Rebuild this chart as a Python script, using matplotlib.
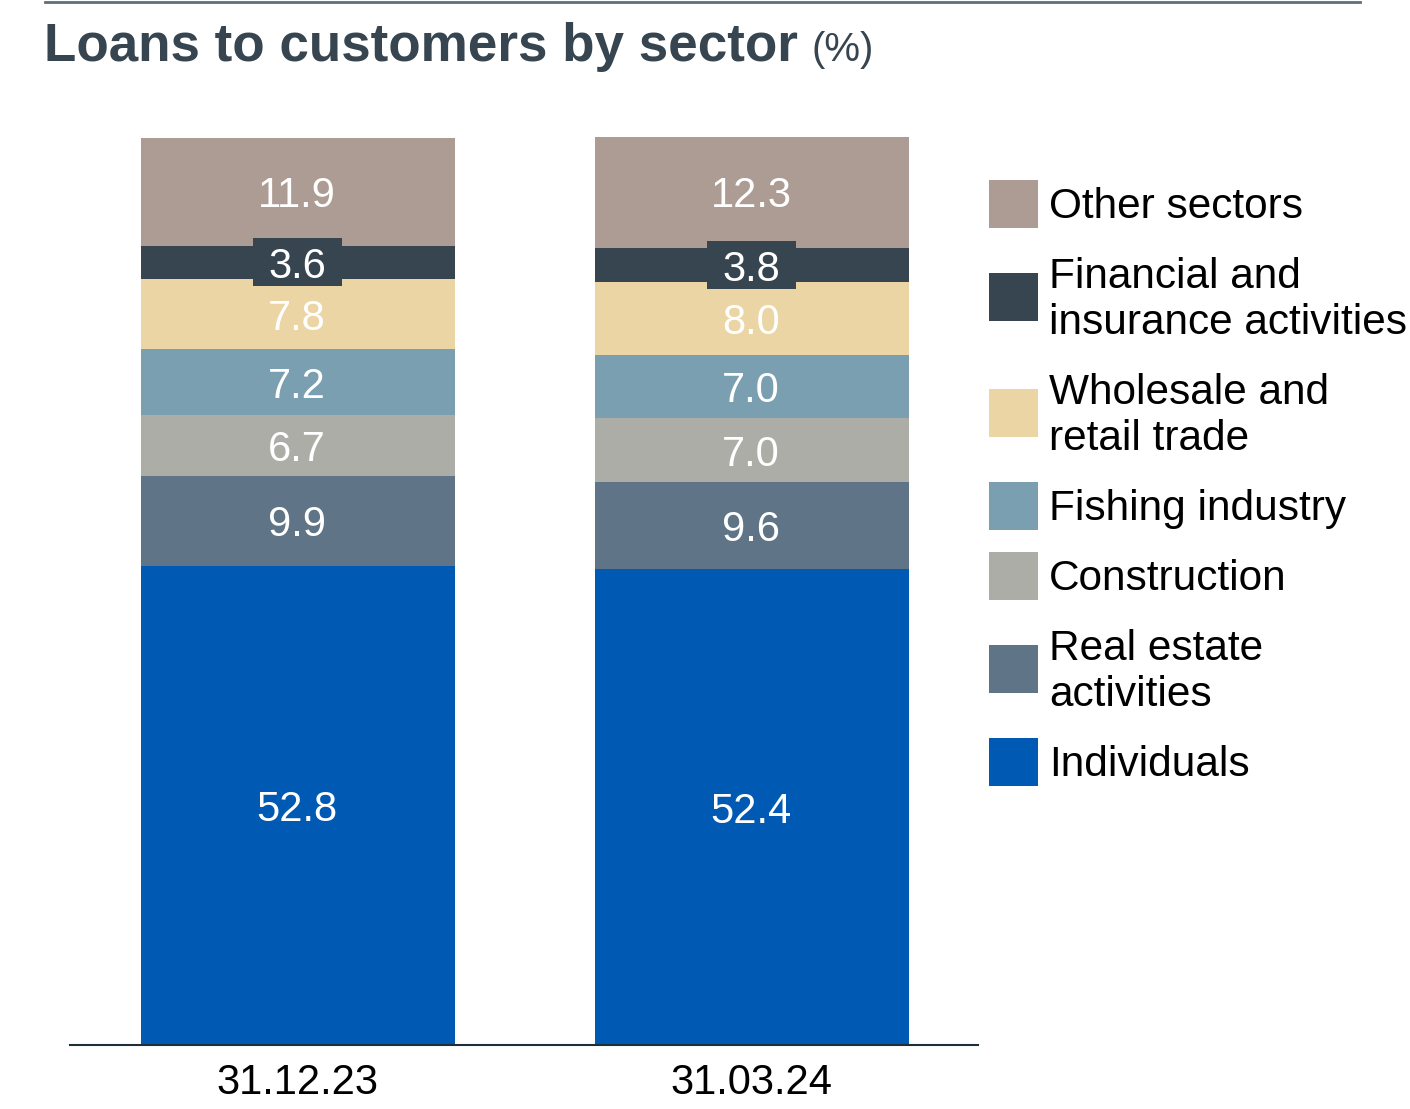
import matplotlib
matplotlib.use("Agg")
import matplotlib.pyplot as plt
from matplotlib.patches import Rectangle
from matplotlib.lines import Line2D
import numpy as np

plt.rcParams['font.family'] = ['Liberation Sans', 'DejaVu Sans']

dates = ["31.12.23", "31.03.24"]
sectors = ["Individuals", "Real estate\nactivities", "Construction", "Fishing industry",
           "Wholesale and\nretail trade", "Financial and\ninsurance activities", "Other sectors"]
individuals = [52.8, 52.4]
real_estate = [9.9, 9.6]
construction = [6.7, 7.0]
fishing = [7.2, 7.0]
wholesale = [7.8, 8.0]
financial = [3.6, 3.8]
other = [11.9, 12.3]
series = [individuals, real_estate, construction, fishing, wholesale, financial, other]
colors = ["#0059B3", "#5F7587", "#ADADA8", "#7A9FB1", "#EBD5A5", "#36454F", "#AD9C93"]

W, H = 1410, 1109
fig = plt.figure(figsize=(W / 100, H / 100), dpi=100)
ax = fig.add_axes([70 / W, 1 - 1045 / H, (978 - 70) / W, (1045 - 137) / H])

x = np.arange(len(dates))
bottom = np.zeros(len(dates))
px_per_unit = (1045 - 137) / 100.0
box_w = 89 / 454.0
box_h = 48 / px_per_unit
for vals, col in zip(series, colors):
    vals = np.array(vals)
    ax.bar(x + 0.002, vals, bottom=bottom, width=0.692, color=col, linewidth=0)
    for xi, b, v in zip(x, bottom, vals):
        yc = b + v / 2
        if v < 5:
            ax.add_patch(Rectangle((xi - box_w / 2, yc - box_h / 2), box_w, box_h,
                                   facecolor=col, edgecolor='none', zorder=3))
        ax.text(xi, yc, f"{v:.1f}", ha='center', va='center_baseline', color='white',
                fontsize=30, zorder=4)
    bottom = bottom + vals

ax.set_xlim(-0.5, 1.5)
ax.set_ylim(0, 100)
ax.set_yticks([])
ax.set_xticks(x)
ax.set_xticklabels(dates, fontsize=30)
ax.tick_params(axis='x', length=0, pad=13)
for s in ['top', 'left', 'right']:
    ax.spines[s].set_visible(False)
ax.spines['bottom'].set_color('#1F2F38')
ax.spines['bottom'].set_linewidth(1.5)

# top rule
fig.add_artist(Line2D([45 / W, 1360 / W], [1 - 1.5 / H, 1 - 1.5 / H], color='#5F6F7A', lw=2))

# title
t = fig.text(44 / W, 1 - 61 / H, "Loans to customers by sector", fontsize=38.2, fontweight='bold',
             color='#36454F', va='baseline', ha='left')
fig.canvas.draw()
bb = t.get_window_extent(fig.canvas.get_renderer())
fig.text((bb.x1 + 14) / W, 1 - 61 / H, "(%)", fontsize=29, color='#36454F', va='baseline', ha='left')

# legend (manual)
legend_y = [762, 669, 576, 506, 413, 297, 204]
for lab, col, yc in zip(sectors, colors, legend_y):
    fig.add_artist(Rectangle((989 / W, 1 - (yc + 24) / H), 49 / W, 48 / H,
                             transform=fig.transFigure, facecolor=col, edgecolor='none'))
    fig.text(1049 / W, 1 - (yc + 3) / H, lab, fontsize=30.5, color='black', va='center', ha='left',
             linespacing=1.2)

fig.savefig("out.png", dpi=100)
